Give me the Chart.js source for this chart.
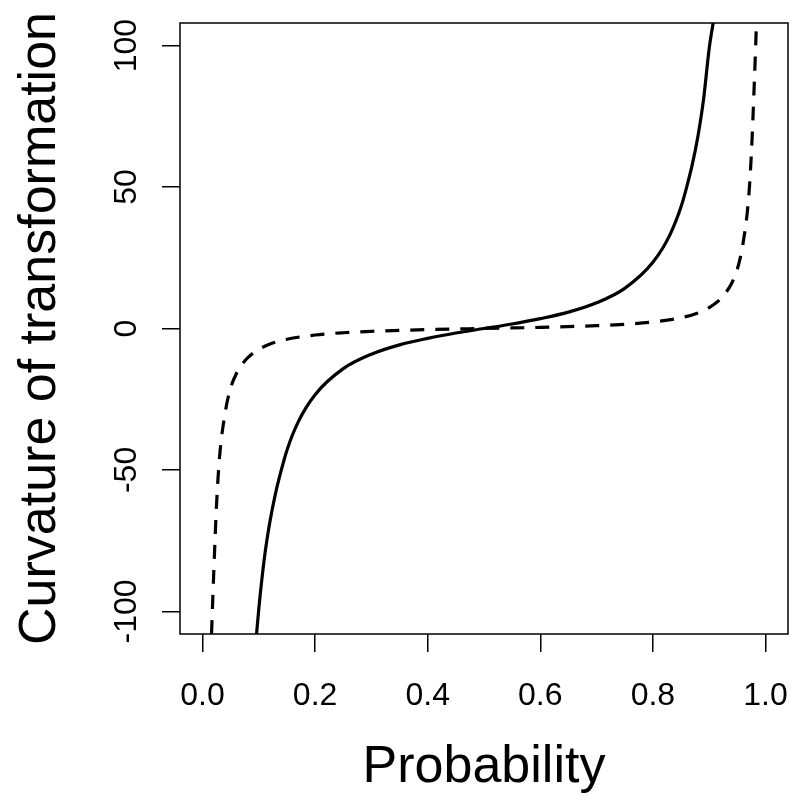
<!DOCTYPE html>
<html>
<head>
<meta charset="utf-8">
<script src="https://cdn.jsdelivr.net/npm/chart.js@4/dist/chart.umd.min.js"></script>
<style>
body { margin: 0; background: #fff; }
</style>
</head>
<body>
<canvas id="curveChart" width="799" height="797"></canvas>
<script>
// values
var solidP = [0.096, 0.10, 0.11, 0.12, 0.13, 0.14, 0.15, 0.17, 0.20, 0.25, 0.30, 0.35, 0.40, 0.45, 0.50,
              0.55, 0.60, 0.65, 0.70, 0.75, 0.80, 0.83, 0.85, 0.86, 0.87, 0.88, 0.89, 0.90, 0.907];
var solidY = [-108, -99, -81, -68, -58, -50, -43, -33, -23.4, -14.2, -9.1, -5.8, -3.5, -1.6, 0,
              1.6, 3.5, 5.8, 9.1, 14.2, 23.4, 33, 43, 50, 58, 68, 81, 99, 108];

var dashedP = [0.016, 0.02, 0.025, 0.03, 0.04, 0.05, 0.06, 0.07, 0.08, 0.10, 0.12, 0.15, 0.20, 0.25, 0.30, 0.40, 0.50,
               0.60, 0.70, 0.75, 0.80, 0.85, 0.88, 0.90, 0.92, 0.93, 0.94, 0.95, 0.96, 0.97, 0.975, 0.98, 0.984];
var dashedY = [-108, -86, -62, -46, -30, -21, -16, -12.8, -10.4, -7.4, -5.5, -3.8, -2.3, -1.5, -1.0, -0.4, 0,
               0.4, 1.0, 1.5, 2.3, 3.8, 5.5, 7.4, 10.4, 12.8, 16, 21, 30, 46, 62, 86, 108];

var xTicks = [0, 0.2, 0.4, 0.6, 0.8, 1.0];
var yTicks = [-100, -50, 0, 50, 100];

var fontFamily = "'Liberation Sans', Arial, Helvetica, sans-serif";

function toPoints(xs, ys) {
    return xs.map(function(x, i) { return {x: x, y: ys[i]}; });
}

var boxPlugin = {
    id: 'plotBox',
    afterDraw: function(chart) {
        var a = chart.chartArea;
        var c = chart.ctx;
        c.save();
        c.strokeStyle = '#000';
        c.lineWidth = 1.5;
        c.strokeRect(a.left, a.top, a.right - a.left, a.bottom - a.top);
        c.restore();
    }
};

var ctx = document.getElementById("curveChart").getContext("2d");

var myChart = new Chart(ctx, {
    type: 'line',
    data: {
        datasets: [{
            label: 'solid',
            data: toPoints(solidP, solidY),
            borderColor: '#000',
            borderWidth: 3.2,
            pointRadius: 0,
            cubicInterpolationMode: 'monotone',
            fill: false
        }, {
            label: 'dashed',
            data: toPoints(dashedP, dashedY),
            borderColor: '#000',
            borderWidth: 3.2,
            borderDash: [14, 11],
            pointRadius: 0,
            cubicInterpolationMode: 'monotone',
            fill: false
        }]
    },
    options: {
        responsive: false,
        animation: false,
        events: [],
        layout: { padding: { top: 23, right: 11, left: 0, bottom: 0 } },
        plugins: { legend: { display: false }, tooltip: { enabled: false } },
        scales: {
            x: {
                type: 'linear',
                min: -0.04,
                max: 1.04,
                afterBuildTicks: function(scale) {
                    scale.ticks = xTicks.map(function(v) { return {value: v}; });
                },
                afterFit: function(scale) {
                    scale.height = 163;
                    scale.paddingLeft = 0;
                    scale.paddingRight = 0;
                },
                grid: { drawOnChartArea: false, color: '#000', lineWidth: 1.5, tickLength: 18 },
                border: { display: false },
                ticks: {
                    autoSkip: false,
                    maxRotation: 0,
                    color: '#000',
                    padding: 28,
                    font: { family: fontFamily, size: 32, lineHeight: 1 },
                    callback: function(v) { return v.toFixed(1); }
                },
                title: {
                    display: true,
                    text: 'Probability',
                    color: '#000',
                    padding: { top: 0, bottom: 3 },
                    font: { family: fontFamily, size: 52, lineHeight: 1 }
                }
            },
            y: {
                type: 'linear',
                min: -108,
                max: 108,
                afterBuildTicks: function(scale) {
                    scale.ticks = yTicks.map(function(v) { return {value: v}; });
                },
                afterFit: function(scale) {
                    scale.width = 180;
                    scale.paddingTop = 0;
                    scale.paddingBottom = 0;
                },
                grid: { drawOnChartArea: false, color: '#000', lineWidth: 1.5, tickLength: 18 },
                border: { display: false },
                ticks: {
                    autoSkip: false,
                    minRotation: 90,
                    maxRotation: 90,
                    crossAlign: 'center',
                    color: '#000',
                    padding: 3,
                    font: { family: fontFamily, size: 32, lineHeight: 1 },
                    callback: function(v) { return String(v); }
                },
                title: {
                    display: true,
                    text: 'Curvature of transformation',
                    color: '#000',
                    padding: { top: 15, bottom: 0 },
                    font: { family: fontFamily, size: 52, lineHeight: 1 }
                }
            }
        }
    },
    plugins: [boxPlugin]
});
</script>
</body>
</html>
